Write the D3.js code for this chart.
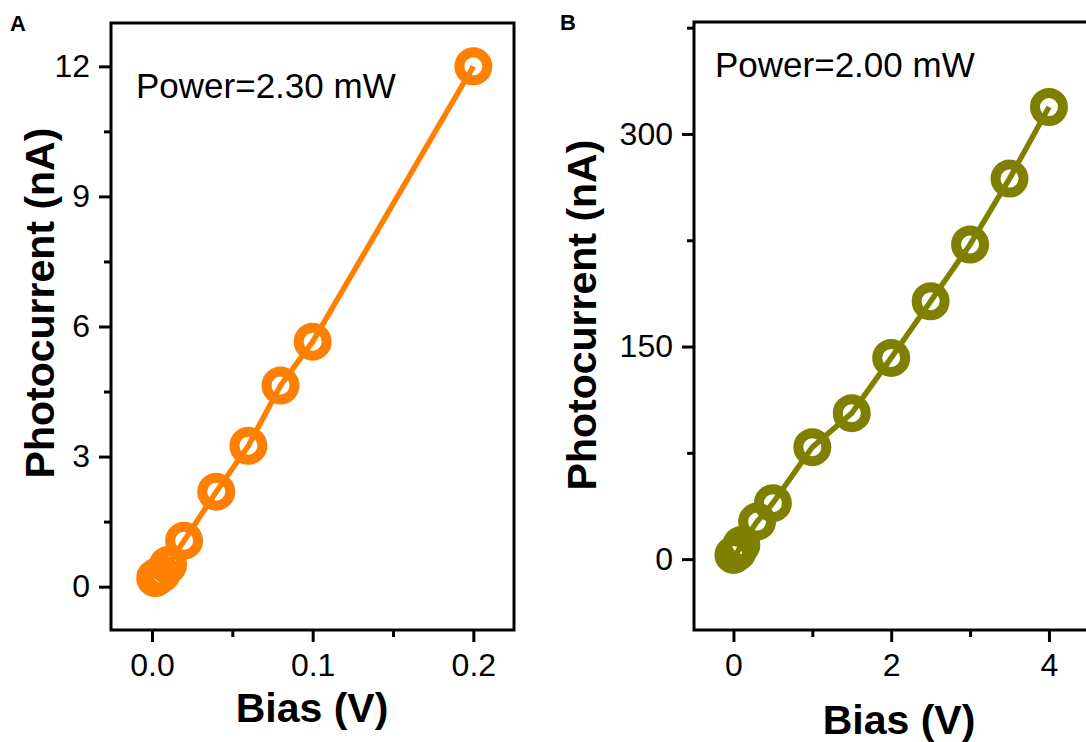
<!DOCTYPE html>
<html>
<head>
<meta charset="utf-8">
<script src="https://cdn.jsdelivr.net/npm/d3@7"></script>
<style>
  body { margin: 0; background: #fff; }
  svg { display: block; font-family: Arial, 'Liberation Sans', sans-serif; }
  .axis path { display: none; }
  .axis line { stroke: #000; stroke-width: 3; }
  .axis text { font-size: 32px; fill: #000; font-family: Arial, 'Liberation Sans', sans-serif; }
  .frame { fill: none; stroke: #000; stroke-width: 3; }
  .title { font-weight: bold; font-size: 41px; }
</style>
</head>
<body>
<svg id="fig" width="1086" height="742"></svg>
<script>
// ------------------------------------------
//  Data
// ------------------------------------------
const biasA = [0.002, 0.004, 0.006, 0.01, 0.02, 0.04, 0.06, 0.08, 0.1, 0.2]
const currentA = [0.2, 0.25, 0.3, 0.5, 1.06, 2.19, 3.25, 4.64, 5.65, 12.0]
const xTicksA = [0, 0.1, 0.2]
const xMinorA = [0.05, 0.15]
const yTicksA = [0, 3, 6, 9, 12]
const yMinorA = [1.5, 4.5, 7.5, 10.5]

const biasB = [0, 0.05, 0.1, 0.3, 0.5, 1, 1.5, 2, 2.5, 3, 3.5, 4]
const currentB = [3, 5, 10, 26.5, 39.5, 79, 103, 142, 182, 222, 268.5, 319]
const xTicksB = [0, 2, 4]
const xMinorB = [1, 3]
const yTicksB = [0, 150, 300]
const yMinorB = [75, 225, 375]

const svg = d3.select('#fig')

// ------------------------------------------
//  Panel
// ------------------------------------------
function drawPanel(p) {
  const x = d3.scaleLinear().domain(p.xDomain).range([p.left, p.right])
  const y = d3.scaleLinear().domain(p.yDomain).range([p.bottom, p.top])
  const g = svg.append('g')

  g.append('rect').attr('class', 'frame')
    .attr('x', p.left).attr('y', p.top)
    .attr('width', p.right - p.left).attr('height', p.bottom - p.top)

  g.append('g').attr('class', 'axis')
    .attr('transform', `translate(${p.left},0)`)
    .call(d3.axisLeft(y).tickValues(p.yTicks).tickSize(12).tickPadding(9).tickFormat(d3.format('d')))
  g.append('g').attr('class', 'axis')
    .attr('transform', `translate(${p.left},0)`)
    .call(d3.axisLeft(y).tickValues(p.yMinor).tickSize(7).tickFormat(''))

  g.append('g').attr('class', 'axis')
    .attr('transform', `translate(0,${p.bottom})`)
    .call(d3.axisBottom(x).tickValues(p.xTicks).tickSize(12).tickPadding(11).tickFormat(p.xFormat))
  g.append('g').attr('class', 'axis')
    .attr('transform', `translate(0,${p.bottom})`)
    .call(d3.axisBottom(x).tickValues(p.xMinor).tickSize(7).tickFormat(''))

  const pts = p.bias.map((b, i) => [b, p.current[i]])

  g.append('path').datum(pts)
    .attr('fill', 'none')
    .attr('stroke', p.color)
    .attr('stroke-width', 5.5)
    .attr('d', d3.line().x(d => x(d[0])).y(d => y(d[1])))

  g.selectAll('.pt').data(pts).enter().append('circle')
    .attr('class', 'pt')
    .attr('cx', d => x(d[0])).attr('cy', d => y(d[1]))
    .attr('r', 14)
    .attr('fill', 'none')
    .attr('stroke', p.color)
    .attr('stroke-width', 10)

  g.append('text')
    .attr('x', p.noteX).attr('y', p.noteY)
    .attr('font-size', 35)
    .text(p.note)

  g.append('text').attr('class', 'title')
    .attr('text-anchor', 'middle')
    .attr('x', p.xTitleX).attr('y', p.xTitleY)
    .text('Bias (V)')

  g.append('text').attr('class', 'title')
    .attr('text-anchor', 'middle')
    .attr('font-size', 41.5)
    .attr('transform', `translate(${p.yTitleX},${p.yTitleY}) rotate(-90)`)
    .text('Photocurrent (nA)')

  g.append('text')
    .attr('x', p.tagX).attr('y', p.tagY)
    .attr('font-weight', 'bold').attr('font-size', 22)
    .text(p.tag)
}

drawPanel({
  left: 111, right: 514, top: 23, bottom: 630,
  xDomain: [-0.0255, 0.2253], yDomain: [-1, 13],
  xTicks: xTicksA, xMinor: xMinorA, yTicks: yTicksA, yMinor: yMinorA,
  xFormat: d3.format('.1f'),
  bias: biasA, current: currentA, color: '#ff8000',
  note: 'Power=2.30 mW', noteX: 136, noteY: 98,
  xTitleX: 312, xTitleY: 722, yTitleX: 54, yTitleY: 303,
  tag: 'A', tagX: 10, tagY: 31
})

drawPanel({
  left: 694, right: 1116, top: 22, bottom: 630,
  xDomain: [-0.5, 4.85], yDomain: [-50, 379],
  xTicks: xTicksB, xMinor: xMinorB, yTicks: yTicksB, yMinor: yMinorB,
  xFormat: d3.format('d'),
  bias: biasB, current: currentB, color: '#808000',
  note: 'Power=2.00 mW', noteX: 715, noteY: 77,
  xTitleX: 899, xTitleY: 734, yTitleX: 596, yTitleY: 315,
  tag: 'B', tagX: 560, tagY: 30
})
</script>
</body>
</html>
